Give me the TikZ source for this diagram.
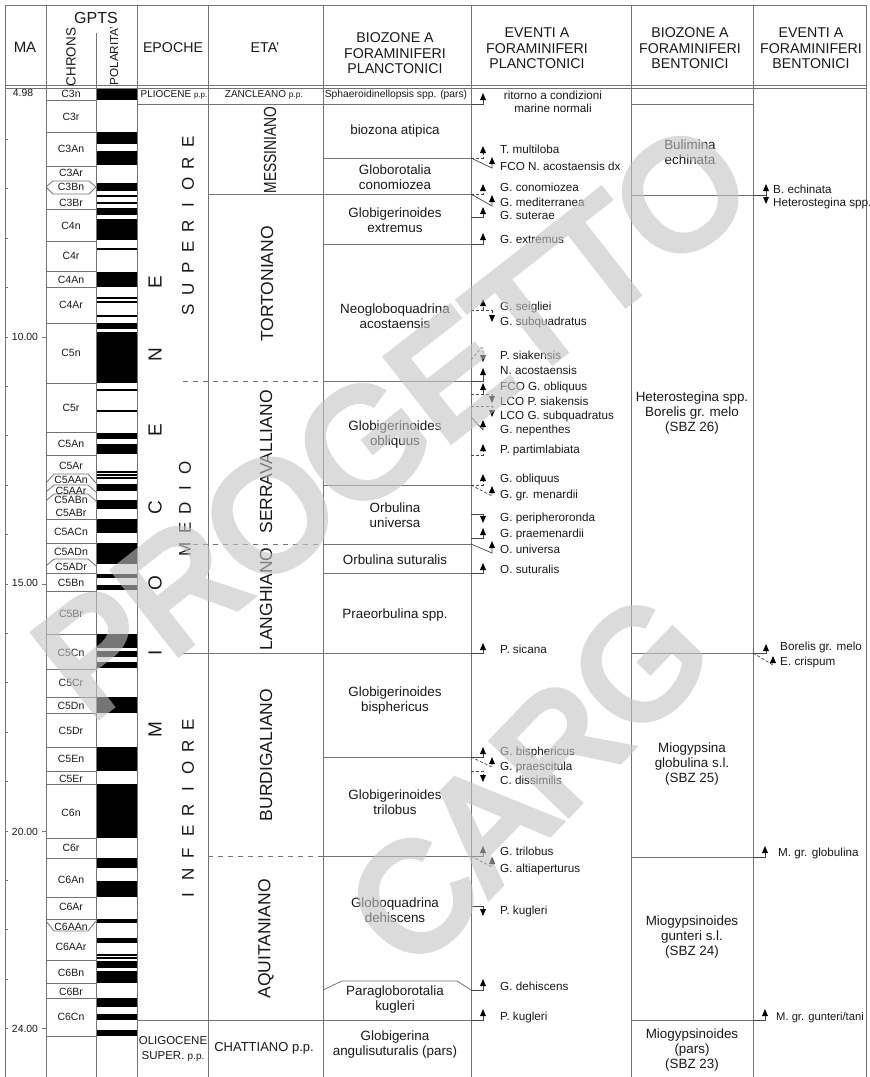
\documentclass[tikz,border=0pt]{standalone}
\usepackage{fontspec}
\usepackage{graphicx}
\setmainfont{Liberation Sans}
\newfontfamily\wmfont{Liberation Sans}[FakeBold=5]
\definecolor{ln}{RGB}{115,115,115}
\definecolor{cn}{RGB}{70,70,70}
\definecolor{tx}{RGB}{25,25,25}
\definecolor{wm}{RGB}{195,195,195}
\newcommand\evUp[2]{\fill[black] (#1-3,#2+7) -- (#1,#2) -- (#1+3,#2+7) -- cycle;}
\newcommand\evDn[2]{\fill[black] (#1-3,#2-7) -- (#1,#2) -- (#1+3,#2-7) -- cycle;}
\tikzset{
 grid/.style={draw=ln, line width=0.8pt},
 conn/.style={draw=cn, line width=0.7pt},
 dsh/.style={draw=cn, line width=0.7pt, dash pattern=on 3pt off 2pt},
 gdash/.style={draw=ln, line width=0.8pt, dash pattern=on 5pt off 5pt},
 hd/.style={font=\fontsize{14.2}{15.5}\selectfont, align=center, inner sep=0, text=tx},
 chr/.style={font=\fontsize{10.5}{12}\selectfont, inner sep=0, text=tx},
 mal/.style={font=\fontsize{10.4}{12}\selectfont, inner sep=0, text=tx},
 bz/.style={font=\fontsize{13.4}{15}\selectfont, align=center, inner sep=0, text=tx},
 ev/.style={font=\fontsize{11.7}{13}\selectfont, anchor=west, inner sep=0, text height=8.5pt, text depth=2.5pt, text=tx},
 age/.style={font=\fontsize{17.5}{18}\selectfont, rotate=90, inner sep=0, text=tx},
 bigl/.style={font=\fontsize{19}{19}\selectfont, rotate=90, inner sep=0, text=tx},
 subl/.style={font=\fontsize{17}{17}\selectfont, rotate=90, inner sep=0, text=tx},
 sm/.style={font=\fontsize{10}{12}\selectfont, align=center, inner sep=0, text=tx},
 wmtext/.style={font=\fontsize{152}{152}\wmfont, text=wm, inner sep=0}
}
\begin{document}
\begin{tikzpicture}[x=1pt,y=-1pt]
\useasboundingbox (0,0) rectangle (870,1077);
\fill[white] (0,0) rectangle (870,1077);

% polarity bands
\foreach \a/\b in {88/99.5,132/144,151/165,183/191,195/197,202/204,208/215,219/240,248/250,272/287,297/299,301/303,315/317,323/329,332/383,389/391,410/412,433/439,444/454,471/472.5,474/475.5,477/478.5,484/491,500/509,519/533,543/564,574/578,585/590,634/648,651/657,662/668,697/713,747/771,784/838,858/868,881/897,919/923,938/943,954/955.5,957/958.5,961/968,971/983,998/1007,1014/1020,1030/1036}
  \fill[black] (96.5,\a) rectangle (137,\b);

% frame and columns
\draw[grid] (5,5) -- (866,5);
\foreach \x in {5,46,137,208,323,471,631,753,866} \draw[grid] (\x,5) -- (\x,1077);
\draw[grid] (96,33) -- (96,1077);
\draw[grid] (5,85.5) -- (866,85.5);
\draw[grid] (5,88.5) -- (866,88.5);

% MA ticks
\foreach \t in {6,...,24} \draw[grid] (5,{337+(\t-10)*49.4}) -- (8,{337+(\t-10)*49.4});
\foreach \t in {10,15,20,24} \draw[grid] (42,{337+(\t-10)*49.4}) -- (46,{337+(\t-10)*49.4});
\node[mal] (m498) at (23,93) {4.98};
\node[mal] (m10) at (25,337) {10.00};
\node[mal] (m15) at (25,583) {15.00};
\node[mal] (m20) at (25,832) {20.00};
\node[mal] (m24) at (25,1029) {24.00};

% chron lines
\foreach \y in {100,132,166,209,241,271,287,323,383,432,455,519,543,573,591,634,669,697,713,747,771,784,838,858,897,919,960,983,998,1036}
  \draw[grid] (46,\y) -- (96,\y);
\draw[grid] (46,187) -- (53,181) -- (89,181) -- (96,187) -- (89,194) -- (53,194) -- cycle;
\draw[grid] (46,483) -- (54,474) -- (88,474) -- (96,483);
\draw[grid] (46,492) -- (54,485) -- (88,485) -- (96,492);
\draw[grid] (46,501) -- (54,494) -- (88,494) -- (96,501);
\draw[grid] (46,566) -- (54,559) -- (88,559) -- (96,566);
\draw[grid] (46,921) -- (54,931) -- (88,931) -- (96,921);

% chron labels
\foreach \n/\y in {C3n/94,C3r/117,C3An/149,C3Ar/173,C3Bn/187,C3Br/203,C4n/226,C4r/256,C4An/280,C4Ar/305,C5n/353,C5r/408,C5An/444,C5Ar/466,C5AAn/480,C5AAr/491,C5ABn/500,C5ABr/513,C5ACn/532,C5ADn/552,C5ADr/567,C5Bn/583,C5Br/614,C5Cn/653,C5Cr/683,C5Dn/706,C5Dr/731,C5En/759,C5Er/779,C6n/813,C6r/848,C6An/880,C6Ar/907,C6AAn/927,C6AAr/947,C6Bn/973,C6Br/992,C6Cn/1017}
  \node[chr] (c\n) at (71,\y) {\n};

% epoch / age / biozone lines
\draw[grid] (137,104) -- (471,104);
\draw[grid] (631,104) -- (753,104);
\draw[grid] (323,158) -- (471,158);
\draw[grid] (208,194) -- (471,194);
\draw[grid] (323,244) -- (471,244);
\draw[gdash] (183,381) -- (323,381);
\draw[grid] (323,381) -- (471,381);
\draw[grid] (323,485) -- (471,485);
\draw[gdash] (183,544) -- (323,544);
\draw[grid] (323,544) -- (471,544);
\draw[grid] (323,573) -- (471,573);
\draw[grid] (183,653) -- (471,653);
\draw[grid] (323,757) -- (471,757);
\draw[gdash] (208,856) -- (323,856);
\draw[grid] (323,856) -- (471,856);
\draw[grid] (323,990) -- (342,981) -- (457,981) -- (471,990);
\draw[grid] (137,1020) -- (471,1020);
\draw[grid] (631,195) -- (753,195);
\draw[grid] (631,653) -- (753,653);
\draw[grid] (631,857) -- (753,857);
\draw[grid] (631,1020) -- (753,1020);

% header
\node[hd, font=\fontsize{15}{16}\selectfont] (hMA) at (25,47) {MA};
\node[hd, font=\fontsize{16}{17}\selectfont] (hG) at (96,18) {GPTS};
\node[hd, rotate=90, font=\fontsize{13.4}{14}\selectfont] (hC) at (71,57) {CHRONS};
\node[hd, rotate=90, font=\fontsize{11.7}{13}\selectfont] (hP) at (114,56) {POLARITA'};
\node[hd] (hE) at (173,48) {EPOCHE};
\node[hd] (hA) at (265,48) {ETA'};
\node[hd] (hB) at (395,53.5) {BIOZONE A\\FORAMINIFERI\\PLANCTONICI};
\node[hd] (hEP) at (537,48.5) {EVENTI A\\FORAMINIFERI\\PLANCTONICI};
\node[hd] (hBB) at (690,48.5) {BIOZONE A\\FORAMINIFERI\\BENTONICI};
\node[hd] (hEB) at (811,48.5) {EVENTI A\\FORAMINIFERI\\BENTONICI};

% epochs
\node[sm] (ePl) at (174,95) {PLIOCENE {\fontsize{8}{9}\selectfont p.p.}};
\node[sm, font=\fontsize{11.5}{15}\selectfont] (eOl) at (173,1049.5) {OLIGOCENE\\SUPER. {\fontsize{10}{11}\selectfont p.p.}};
\foreach \l/\y in {E/282,N/355,E/430,C/508,O/583,I/653,M/730} \node[bigl] (mio\y) at (155,\y) {\l};
\foreach \l/\y in {E/142,R/163,O/184,I/205,R/226,E/247,P/268,U/289,S/310} \node[subl] (sup\y) at (188,\y) {\l};
\foreach \l/\y in {O/468,I/488,D/508,E/528,M/549} \node[subl] (med\y) at (185,\y) {\l};
\foreach \l/\y in {E/725,R/746,O/768,I/789,R/810,E/831,F/853,N/874,I/895} \node[subl] (inf\y) at (188,\y) {\l};

% ages
\node[sm] (aZa) at (264,95) {ZANCLEANO {\fontsize{8.5}{9}\selectfont p.p.}};
\node[age] (aMe) at (270,150) {\scalebox{0.79}[1]{MESSINIANO}};
\node[age] (aTo) at (267,284) {TORTONIANO};
\node[age] (aSe) at (266,462) {SERRAVALLIANO};
\node[age] (aLa) at (266,599) {LANGHIANO};
\node[age] (aBu) at (266,755) {BURDIGALIANO};
\node[age] (aAq) at (266,939) {AQUITANIANO};
\node[sm, font=\fontsize{13}{14}\selectfont] (aCh) at (264,1048) {CHATTIANO p.p.};

% planktonic biozones
\node[bz, font=\fontsize{10.3}{12}\selectfont] (b0) at (396,95) {Sphaeroidinellopsis spp. (pars)};
\node[bz] (b1) at (395,131) {biozona atipica};
\node[bz] (b2) at (395,177.5) {Globorotalia\\conomiozea};
\node[bz] (b3) at (395,220.5) {Globigerinoides\\extremus};
\node[bz] (b4) at (395,316) {Neogloboquadrina\\acostaensis};
\node[bz] (b5) at (395,435) {Globigerinoides\\obliquus};
\node[bz] (b6) at (395,515) {Orbulina\\universa};
\node[bz] (b7) at (395,560) {Orbulina suturalis};
\node[bz] (b8) at (395,615) {Praeorbulina spp.};
\node[bz] (b9) at (395,700.5) {Globigerinoides\\bisphericus};
\node[bz] (b10) at (395,802.5) {Globigerinoides\\trilobus};
\node[bz] (b11) at (395,910.5) {Globoquadrina\\dehiscens};
\node[bz] (b12) at (395,1000) {Paragloborotalia\\kugleri};
\node[bz] (b13) at (395,1044.5) {Globigerina\\angulisuturalis (pars)};

% benthic biozones
\node[bz] (bb1) at (690,152) {Bulimina\\echinata};
\node[bz] (bb2) at (692,413) {Heterostegina spp.\\Borelis gr. melo\\(SBZ 26)};
\node[bz] (bb3) at (692,764) {Miogypsina\\globulina s.l.\\(SBZ 25)};
\node[bz] (bb4) at (692,937) {Miogypsinoides\\gunteri s.l.\\(SBZ 24)};
\node[bz] (bb5) at (692,1050) {Miogypsinoides\\(pars)\\(SBZ 23)};

% planktonic events
\draw[conn] (471,104) -- (483,104) -- (483,100); \evUp{483}{93}
\node[ev, anchor=center, align=center, text height=, text depth=] (e1) at (553,101.5) {ritorno a condizioni\\marine normali};
\draw[dsh] (471,158) -- (483,158) -- (483,153); \evUp{483}{146}
\node[ev] (e2) at (500,150) {T. multiloba};
\draw[conn] (471,158) -- (492,168) -- (492,164); \evUp{492}{157}
\node[ev] (e3) at (500,167) {FCO N. acostaensis dx};
\draw[dsh] (471,194) -- (483,194) -- (483,191); \evUp{483}{184}
\node[ev] (e4) at (500,188) {G. conomiozea};
\draw[conn] (471,194) -- (492,206) -- (492,202); \evUp{492}{195}
\node[ev] (e5) at (500,203) {G. mediterranea};
\draw[conn] (471,217) -- (483,217) -- (483,214); \evUp{483}{207}
\node[ev] (e6) at (500,216) {G. suterae};
\draw[conn] (471,244) -- (483,244) -- (483,240); \evUp{483}{233}
\node[ev] (e7) at (500,240) {G. extremus};
\draw[dsh] (471,310) -- (492,310);
\draw[dsh] (483,310) -- (483,306); \evUp{483}{299}
\draw[dsh] (492,310) -- (492,315); \evDn{492}{322}
\node[ev] (e8) at (500,307) {G. seigliei};
\node[ev] (e9) at (500,322) {G. subquadratus};
\draw[dsh] (471,360) -- (481,348) -- (483,348) -- (483,355); \evDn{483}{362}
\node[ev] (e10) at (500,356) {P. siakensis};
\draw[conn] (471,381) -- (483,381) -- (483,375); \evUp{483}{368}
\node[ev] (e11) at (500,371) {N. acostaensis};
\draw[dsh] (471,394) -- (492,394);
\draw[conn] (483,394) -- (483,390); \evUp{483}{383}
\draw[conn] (492,394) -- (492,396); \evDn{492}{403}
\node[ev] (e12) at (500,387) {FCO G. obliquus};
\node[ev] (e13) at (500,402) {LCO P. siakensis};
\draw[dsh] (471,406) -- (492,406) -- (492,410); \evDn{492}{417}
\node[ev] (e14) at (500,416) {LCO G. subquadratus};
\draw[conn] (471,417) -- (483,430) -- (483,427); \evUp{483}{420}
\node[ev] (e15) at (500,430) {G. nepenthes};
\draw[dsh] (471,455) -- (483,455) -- (483,451); \evUp{483}{444}
\node[ev] (e16) at (500,450) {P. partimlabiata};
\draw[dsh] (471,485) -- (483,485) -- (483,481); \evUp{483}{474}
\node[ev] (e17) at (500,479) {G. obliquus};
\draw[dsh] (471,485) -- (492,496) -- (492,493); \evUp{492}{486}
\node[ev] (e18) at (500,495) {G. gr. menardii};
\draw[conn] (471,514) -- (483,514) -- (483,516); \evDn{483}{523}
\node[ev] (e19) at (500,518) {G. peripheroronda};
\draw[conn] (471,538) -- (483,538) -- (483,535); \evUp{483}{528}
\node[ev] (e20) at (500,534) {G. praemenardii};
\draw[conn] (471,544) -- (492,553) -- (492,548); \evUp{492}{541}
\node[ev] (e21) at (500,550) {O. universa};
\draw[conn] (471,573) -- (483,573) -- (483,570); \evUp{483}{563}
\node[ev] (e22) at (500,570) {O. suturalis};
\draw[conn] (471,653) -- (483,653) -- (483,650); \evUp{483}{643}
\node[ev] (e23) at (500,650) {P. sicana};
\draw[conn] (471,757) -- (483,757) -- (483,754); \evUp{483}{747}
\node[ev] (e24) at (500,752) {G. bisphericus};
\draw[dsh] (471,757) -- (492,767) -- (492,764); \evUp{492}{757}
\node[ev] (e25) at (500,767) {G. praescitula};
\draw[dsh] (471,771) -- (483,771) -- (483,775); \evDn{483}{782}
\node[ev] (e26) at (500,781) {C. dissimilis};
\draw[conn] (471,856) -- (483,856) -- (483,853); \evUp{483}{846}
\node[ev] (e27) at (500,852) {G. trilobus};
\draw[dsh] (471,856) -- (492,867) -- (492,864); \evUp{492}{857}
\node[ev] (e28) at (500,869) {G. altiaperturus};
\draw[conn] (471,906) -- (483,906) -- (483,909); \evDn{483}{916}
\node[ev] (e29) at (500,911) {P. kugleri};
\draw[conn] (471,990) -- (483,990) -- (483,986); \evUp{483}{979}
\node[ev] (e30) at (500,987) {G. dehiscens};
\draw[conn] (471,1020) -- (483,1020) -- (483,1016); \evUp{483}{1009}
\node[ev] (e31) at (500,1017) {P. kugleri};

% benthic events
\draw[conn] (753,195) -- (766,195) -- (766,191); \evUp{766}{184}
\draw[conn] (766,195) -- (766,197); \evDn{766}{204}
\node[ev] (f1) at (773,190) {B. echinata};
\node[ev] (f2) at (773,203) {Heterostegina spp.};
\draw[conn] (753,653) -- (766,653) -- (766,651); \evUp{766}{644}
\draw[dsh] (753,653) -- (773,665) -- (773,663); \evUp{773}{656}
\node[ev] (f3) at (780,647) {Borelis gr. melo};
\node[ev] (f4) at (780,662) {E. crispum};
\draw[conn] (753,857) -- (765,857) -- (765,853); \evUp{765}{846}
\node[ev] (f5) at (778,853) {M. gr. globulina};
\draw[conn] (753,1020) -- (765,1020) -- (765,1016); \evUp{765}{1009}
\node[ev, font=\fontsize{11.2}{13}\selectfont] (f6) at (776,1017) {M. gr. gunteri/tani};

% watermark
\begin{scope}[transparency group, opacity=0.6]
\node[wmtext, rotate=38] (wm1) at (392,420) {PROGETTO};
\node[wmtext, rotate=46] (wm2) at (528,780) {CARG};
\end{scope}
\end{tikzpicture}
\end{document}
